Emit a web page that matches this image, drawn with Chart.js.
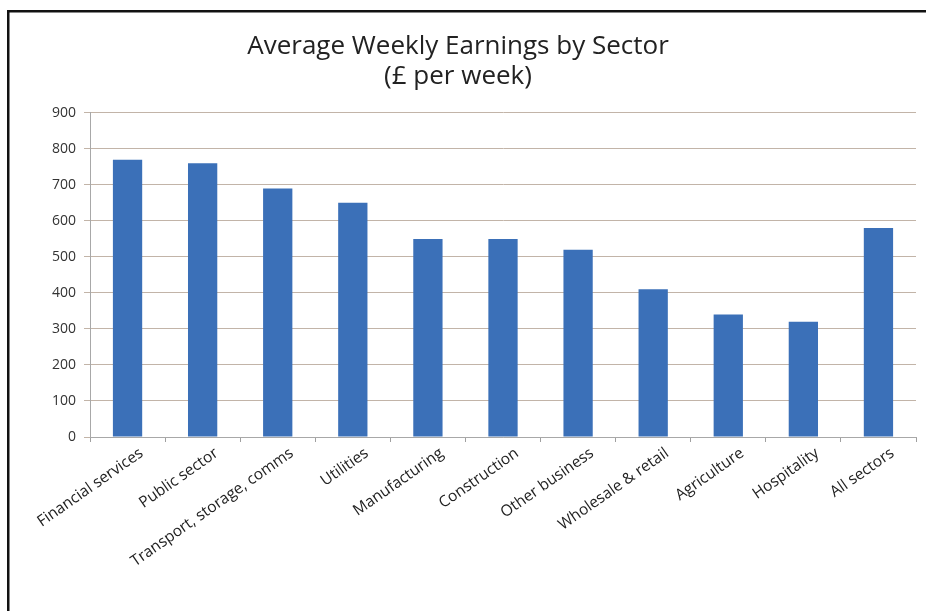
<!DOCTYPE html>
<html>
<head>
<meta charset="utf-8">
<script src="https://cdn.jsdelivr.net/npm/chart.js@4"></script>
<style>
  html, body { margin: 0; padding: 0; background: #fff; }
  #wrap { position: absolute; left: 0; top: 0; width: 926px; height: 611px; }
</style>
</head>
<body>
<div id="wrap"><canvas id="myChart" width="926" height="611"></canvas></div>
<script>
const sectors = [
  "Financial services",
  "Public sector",
  "Transport, storage, comms",
  "Utilities",
  "Manufacturing",
  "Construction",
  "Other business",
  "Wholesale & retail",
  "Agriculture",
  "Hospitality",
  "All sectors",
];
const earnings = [770, 760, 690, 650, 550, 550, 520, 410, 340, 320, 580];
const yTicks = [0, 100, 200, 300, 400, 500, 600, 700, 800, 900];

// thick black frame on top and left, like the scanned original
const framePlugin = {
  id: "frame",
  beforeDraw(chart) {
    const ctx = chart.ctx;
    ctx.save();
    ctx.fillStyle = "#fff";
    ctx.fillRect(0, 0, chart.width, chart.height);
    ctx.fillStyle = "#111";
    ctx.fillRect(7, 10, chart.width - 7, 2.5);
    ctx.fillRect(7, 10, 2.5, chart.height - 10);
    ctx.restore();
  },
};

const ctx = document.getElementById("myChart");
new Chart(ctx, {
  type: "bar",
  data: {
    labels: sectors,
    datasets: [
      {
        label: "Average weekly earnings",
        data: earnings,
        backgroundColor: "#3b70b8",
        categoryPercentage: 1,
        barPercentage: 0.39,
      },
    ],
  },
  options: {
    responsive: false,
    animation: false,
    layout: { padding: { left: 0, right: 10, top: 0, bottom: 0 } },
    plugins: {
      legend: { display: false },
      tooltip: { enabled: false },
      title: {
        display: true,
        text: ["Average Weekly Earnings by Sector", "(£ per week)"],
        color: "#222",
        font: { family: "Open Sans", size: 26, weight: "normal", lineHeight: 1.15 },
        padding: { top: 32, bottom: 21 },
      },
    },
    scales: {
      x: {
        afterFit(s) { s.height = 174; },
        grid: {
          display: true,
          drawOnChartArea: false,
          drawTicks: true,
          tickLength: 5,
          color: "#a0a0a0",
          offset: true,
        },
        border: { color: "#a8a8a8" },
        ticks: {
          minRotation: 35,
          maxRotation: 35,
          autoSkip: false,
          color: "#222",
          labelOffset: 14,
          padding: 2,
          font: { family: "Open Sans", size: 15.5 },
        },
      },
      y: {
        min: 0,
        max: 900,
        afterFit(s) { s.width = 90; },
        afterBuildTicks(s) { s.ticks = yTicks.map(v => ({ value: v })); },
        grid: {
          color: "#c2b4a8",
          tickLength: 6,
        },
        border: { color: "#a8a8a8" },
        ticks: {
          color: "#333",
          padding: 8,
          font: { family: "Open Sans", size: 14 },
        },
      },
    },
  },
  plugins: [framePlugin],
});
</script>
</body>
</html>
